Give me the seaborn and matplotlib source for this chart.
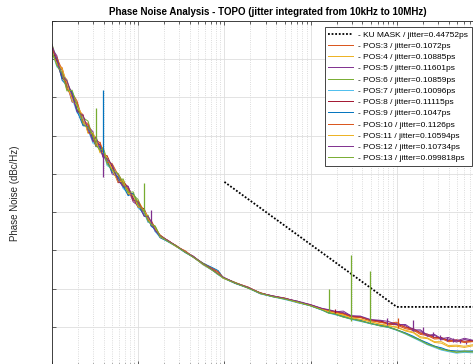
import pandas as pd
import numpy as np
import matplotlib
matplotlib.use('Agg')
import matplotlib.pyplot as plt
import seaborn as sns

plt.rcParams['font.family'] = ['Liberation Sans', 'DejaVu Sans']

# frequency grid (Hz) shared by all traces
freq = [100, 114, 131, 149, 171, 195, 229, 262, 299, 324, 361, 391, 435, 498, 585, 668,
        764, 873, 998, 1172, 1303, 1413, 1572, 1795,
        2223, 2754, 3505, 4343, 5675, 7218, 8472, 9683, 13350, 18880, 26040, 35900,
        50800, 70100, 99300, 136800,
        160600, 188500, 239700, 297100, 377800, 493500, 645100, 798200, 988800,
        1.259e6, 1.56e6, 1.88e6, 2.266e6, 2.733e6, 3.297e6, 3.974e6, 4.92e6, 6.095e6, 7.55e6, 1e7]

pos3 = [-66.6, -71.4, -72.2, -77.2, -78.8, -80.9, -86.3, -86.8, -91.4, -91.1, -91.9, -94.7, -95.5, -99.2, -100.0, -102.2,
        -105.4, -105.2, -107.6, -110.6, -111.1, -112.7, -113.9, -116.5,
        -117.4, -119.0, -120.1, -121.7, -123.4, -124.7, -125.6, -127.1, -128.5, -129.6, -131.3, -131.9,
        -132.5, -133.5, -134.2, -135.4,
        -135.8, -136.2, -136.7, -137.4, -137.6, -138.4, -138.7, -139.3, -139.5,
        -140.5, -140.9, -142.0, -142.3, -143.2, -143.1, -143.9, -143.7, -144.1, -143.9, -144.0]
pos4 = [-68.8, -70.0, -74.0, -75.3, -80.7, -82.3, -84.9, -88.9, -89.9, -90.5, -94.0, -93.8, -97.4, -97.9, -101.5, -101.6,
        -104.2, -106.6, -107.0, -109.7, -112.1, -112.3, -114.6, -116.0,
        -117.7, -118.7, -120.4, -121.6, -123.8, -125.1, -126.1, -127.3, -128.4, -129.9, -131.2, -132.1,
        -132.6, -133.6, -134.4, -135.6,
        -136.1, -136.5, -137.0, -137.9, -138.1, -138.6, -139.4, -139.8, -140.0,
        -141.1, -141.6, -142.9, -143.1, -144.1, -144.3, -145.2, -145.1, -145.4, -145.0, -145.3]
pos5 = [-67.2, -69.1, -74.7, -76.5, -81.2, -81.6, -87.2, -87.5, -89.0, -92.4, -93.0, -95.7, -95.9, -100.0, -100.8, -103.5,
        -103.7, -107.3, -108.3, -109.5, -112.6, -112.8, -115.0, -116.1,
        -117.5, -118.9, -120.5, -121.5, -123.6, -125.2, -126.1, -127.2, -128.6, -129.7, -131.2, -131.9,
        -132.7, -133.3, -134.3, -135.3,
        -135.7, -136.1, -135.9, -137.2, -137.4, -138.4, -138.4, -139.2, -139.2,
        -139.7, -141.1, -141.1, -142.5, -142.2, -143.4, -143.2, -144.0, -143.3, -143.8, -143.9]
pos6 = [-66.0, -70.4, -72.9, -78.0, -78.4, -83.0, -85.3, -86.2, -90.7, -90.8, -94.3, -93.0, -96.2, -97.5, -101.9, -101.3,
        -104.7, -105.5, -106.7, -110.7, -110.8, -113.3, -113.6, -116.2,
        -117.6, -118.8, -120.5, -121.7, -123.5, -125.1, -126.3, -127.2, -128.4, -129.8, -131.3, -132.0,
        -132.6, -133.6, -134.4, -135.6,
        -136.3, -136.7, -137.2, -138.0, -138.3, -139.2, -139.6, -140.0, -140.7,
        -141.7, -142.7, -143.4, -144.5, -145.0, -145.8, -146.1, -146.6, -146.3, -146.5, -146.4]
pos7 = [-68.1, -72.0, -73.3, -75.8, -80.2, -84.0, -85.6, -88.5, -92.0, -91.6, -93.6, -93.6, -97.8, -98.7, -100.5, -103.8,
        -105.0, -105.8, -108.9, -110.3, -112.7, -112.6, -115.1, -116.6,
        -117.8, -119.0, -120.6, -121.8, -123.8, -125.2, -126.4, -127.3, -128.7, -129.9, -131.4, -132.1,
        -132.9, -133.7, -134.5, -135.7,
        -136.4, -136.8, -137.4, -138.1, -138.6, -139.2, -139.8, -140.2, -140.9,
        -141.9, -142.9, -143.8, -144.7, -145.4, -146.1, -146.5, -146.9, -146.7, -146.8, -146.7]
pos8 = [-66.8, -70.8, -75.0, -76.1, -79.1, -83.4, -84.5, -89.2, -89.6, -92.2, -92.3, -95.3, -95.2, -98.2, -102.3, -102.1,
        -103.4, -106.3, -108.7, -109.1, -111.6, -113.5, -114.0, -116.4,
        -117.5, -118.9, -120.3, -121.8, -123.6, -125.0, -126.2, -127.1, -128.6, -129.8, -131.1, -132.0,
        -132.6, -133.5, -134.3, -135.3,
        -135.6, -136.0, -136.5, -137.3, -137.4, -138.2, -138.5, -139.2, -139.3,
        -140.1, -140.5, -141.6, -141.9, -142.8, -142.8, -143.6, -143.4, -143.8, -143.6, -143.7]
pos9 = [-69.2, -69.7, -75.5, -76.9, -78.6, -83.5, -87.4, -87.6, -91.0, -92.9, -92.7, -95.1, -96.7, -99.5, -100.9, -103.1,
        -105.7, -105.1, -108.2, -111.0, -111.4, -113.7, -114.5, -116.7,
        -117.7, -118.9, -120.5, -121.7, -123.4, -124.5, -125.3, -127.2, -128.6, -129.8, -131.3, -132.1,
        -132.7, -133.6, -134.5, -135.6,
        -136.3, -136.6, -137.4, -137.9, -138.4, -139.1, -139.7, -140.1, -140.8,
        -141.6, -142.5, -143.5, -144.2, -145.1, -145.5, -146.2, -146.3, -146.4, -146.3, -146.3]
pos10 = [-67.4, -69.6, -72.8, -77.6, -79.9, -81.4, -86.6, -87.1, -90.2, -92.8, -91.7, -94.2, -97.0, -97.3, -100.3, -102.9,
         -103.9, -107.0, -107.2, -109.9, -112.2, -112.1, -114.3, -116.0,
         -117.5, -118.8, -120.4, -121.6, -123.5, -124.8, -125.7, -127.1, -128.5, -129.7, -131.1, -132.0,
         -132.6, -133.4, -134.4, -135.4,
         -135.7, -136.1, -136.6, -137.4, -137.5, -138.3, -138.9, -139.1, -138.8,
         -140.2, -140.7, -141.7, -142.1, -142.9, -143.0, -143.7, -143.6, -144.0, -143.8, -143.9]
pos11 = [-68.5, -71.1, -72.5, -76.2, -80.9, -82.0, -85.1, -89.4, -89.3, -91.3, -94.5, -94.4, -95.6, -98.9, -102.1, -101.8,
         -105.1, -105.6, -108.6, -109.5, -111.5, -113.2, -114.1, -116.5,
         -117.6, -119.0, -120.3, -121.7, -123.7, -125.1, -126.1, -127.3, -128.5, -129.7, -131.3, -132.0,
         -132.7, -133.6, -134.4, -135.5,
         -136.0, -136.4, -136.9, -137.7, -138.0, -138.7, -139.3, -139.6, -140.2,
         -140.9, -141.4, -142.6, -142.9, -143.9, -143.9, -144.9, -144.8, -145.1, -144.7, -145.0]
pos12 = [-66.3, -70.2, -74.3, -75.6, -79.3, -83.7, -84.8, -88.2, -91.6, -90.3, -93.3, -95.5, -96.0, -97.7, -101.7, -103.3,
         -103.2, -106.8, -107.4, -111.1, -111.2, -112.5, -114.8, -116.2,
         -117.5, -118.8, -120.4, -121.6, -123.6, -125.0, -126.2, -127.0, -128.5, -129.7, -131.2, -131.9,
         -132.6, -133.3, -134.2, -135.2,
         -135.5, -135.9, -136.3, -137.1, -137.2, -138.1, -138.3, -138.6, -139.4,
         -139.4, -140.8, -140.8, -142.2, -142.0, -143.1, -142.8, -143.7, -143.0, -143.5, -143.6]
pos13 = [-67.9, -71.7, -73.6, -78.3, -78.1, -81.9, -86.9, -87.9, -89.7, -92.5, -93.8, -93.4, -97.3, -99.0, -99.9, -102.4,
         -104.9, -104.7, -108.1, -109.8, -112.4, -113.1, -113.8, -116.3,
         -117.7, -118.9, -120.5, -121.8, -123.6, -125.2, -126.3, -127.2, -128.6, -129.9, -131.2, -132.1,
         -132.8, -133.5, -134.5, -135.6,
         -136.4, -136.6, -137.5, -137.9, -138.5, -139.1, -139.8, -140.1, -140.8,
         -141.8, -142.8, -143.6, -144.6, -145.2, -145.9, -146.3, -146.7, -146.5, -146.6, -146.5]

pos_names = ['POS:3', 'POS:4', 'POS:5', 'POS:6', 'POS:7', 'POS:8', 'POS:9', 'POS:10', 'POS:11', 'POS:12', 'POS:13']
pos_values = [pos3, pos4, pos5, pos6, pos7, pos8, pos9, pos10, pos11, pos12, pos13]
jitter = ['0.1072', '0.10885', '0.11601', '0.10859', '0.10096', '0.11115', '0.1047', '0.1126',
          '0.10594', '0.10734', '0.099818']

# KU mask
mask_freq = [1e4, 1e6, 1e7]
mask_pn = [-102.1, -134.8, -134.8]
mask_jitter = '0.44752'

# narrow spurs on individual traces: frequency, bottom, top, trace
spur_freq = [324, 391, 395, 1172, 1413, 162000, 194000, 297000, 493000, 778000, 1.02e6,
             1.56e6, 2.04e6, 2.66e6, 3.21e6, 3.87e6, 4.54e6, 5.48e6, 6.43e6]
spur_lo = [-91.7, -94.5, -100.8, -110.1, -112.9, -136.2, -136.5, -138.5, -138.9, -139.5, -140.4,
           -141.0, -142.0, -142.8, -143.4, -143.8, -144.0, -144.3, -144.4]
spur_hi = [-82.8, -78.1, -94.6, -102.4, -109.5, -130.1, -135.3, -121.2, -125.4, -137.7, -137.7,
           -138.2, -140.1, -141.4, -142.2, -142.7, -143.0, -143.5, -144.0]
spur_pos = ['POS:13', 'POS:9', 'POS:5', 'POS:6', 'POS:12', 'POS:13', 'POS:8', 'POS:13', 'POS:13', 'POS:5', 'POS:10',
            'POS:12', 'POS:5', 'POS:12', 'POS:5', 'POS:12', 'POS:5', 'POS:12', 'POS:5']

# matlab default order, shifted by one because the mask took the first slot
colors = ['#D95319', '#EDB120', '#7E2F8E', '#77AC30', '#4DBEEE', '#A2142F', '#0072BD',
          '#D95319', '#EDB120', '#7E2F8E', '#77AC30']
pal = dict(zip(pos_names, colors))

df = pd.concat([pd.DataFrame({'freq': freq, 'pn': v, 'pos': n}) for n, v in zip(pos_names, pos_values)],
               ignore_index=True)

fig = plt.figure(figsize=(4.73, 3.64), dpi=100)
ax = fig.add_axes([52 / 473, -1 / 364, 431 / 473, 344 / 364])

sns.lineplot(x=mask_freq, y=mask_pn, color='black', linestyle=(0, (1, 1)), lw=1.3, ax=ax, legend=False)
sns.lineplot(data=df, x='freq', y='pn', hue='pos', hue_order=pos_names, palette=pal,
             estimator=None, sort=False, lw=0.7, legend=False, ax=ax)
ax.vlines(spur_freq, spur_lo, spur_hi, colors=[pal[p] for p in spur_pos], lw=0.9)

ax.set_xscale('log')
ax.set_xlim(100, 1e7)
ax.set_ylim(-150, -60)
ax.set_yticks(np.arange(-150, -59, 10))
ax.set_xlabel('')
ax.set_ylabel('Phase Noise (dBc/Hz)', fontsize=7, color='#262626')
ax.yaxis.set_label_coords(-0.074, 0.5)
ax.set_title('Phase Noise Analysis - TOPO (jitter integrated from 10kHz to 10MHz)',
             fontsize=7, fontweight='bold', pad=4)

ax.grid(True, which='major', color='#dedede', lw=0.6)
ax.grid(True, which='minor', axis='x', color='#d0d0d0', lw=0.6, linestyle=':')
ax.tick_params(which='both', direction='in', top=True, right=True,
               labelbottom=False, labelleft=False, colors='#262626')
ax.tick_params(which='major', length=3, width=0.5)
ax.tick_params(which='minor', length=1.8, width=0.5)
for s in ax.spines.values():
    s.set_color('#262626')
    s.set_linewidth(0.6)

handles = ax.get_lines()[:12]
labels = ['- KU MASK / jitter=' + mask_jitter + 'ps'] + \
         ['- ' + n + ' / jitter=' + j + 'ps' for n, j in zip(pos_names, jitter)]
leg = ax.legend(handles, labels, loc='upper right', bbox_to_anchor=((472 - 52) / 431, 1 - 6 / 344),
                borderaxespad=0, fontsize=6, handlelength=2.9, handletextpad=0.7, labelspacing=0.41,
                borderpad=0.45, fancybox=False, framealpha=1, edgecolor='#262626')
leg.get_frame().set_linewidth(0.6)

fig.savefig('out.png', dpi=100)
